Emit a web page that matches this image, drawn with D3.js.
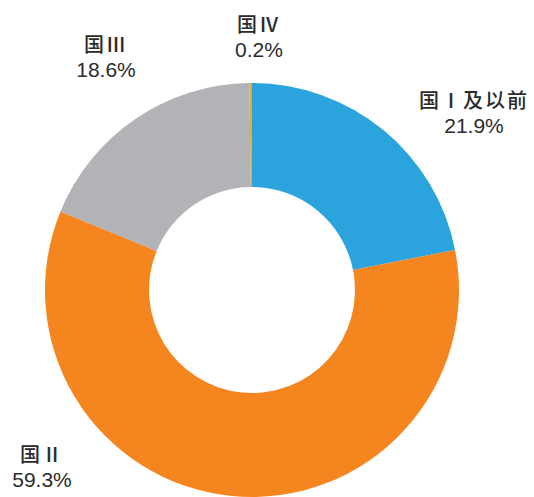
<!DOCTYPE html>
<html>
<head>
<meta charset="utf-8">
<script src="https://d3js.org/d3.v7.min.js"></script>
<style>
  body { margin: 0; background: #fff; }
  text { font-family: "Liberation Sans", Arial, "Noto Sans CJK SC", sans-serif; fill: #2b2b2b; }
</style>
</head>
<body>
<svg id="chart"></svg>
<script>
// data
var names = ["国Ⅰ及以前", "国Ⅱ", "国Ⅲ", "国Ⅳ"];
var shares = [21.9, 59.3, 18.6, 0.2];
var colors = ["#2ba3dd", "#f5851f", "#b2b3b6", "#f3a42c"];

var width = 534, height = 497;
var cx = 252, cy = 290, outerR = 207, innerR = 103;

// label anchors (layout only), centre x and first-line baseline
var labelPos = [[474, 108], [42, 462], [106, 52], [259, 32]];

var svg = d3.select("#chart")
    .attr("width", width)
    .attr("height", height);

var g = svg.append("g")
    .attr("transform", "translate(" + cx + "," + cy + ")");

var pie = d3.pie().sort(null).value(function(d) { return d; });
var arc = d3.arc().innerRadius(innerR).outerRadius(outerR);

g.selectAll("path")
    .data(pie(shares))
    .enter().append("path")
    .attr("d", arc)
    .attr("fill", function(d, i) { return colors[i]; });

var labels = svg.selectAll(".lbl")
    .data(names)
    .enter().append("text")
    .attr("class", "lbl")
    .attr("text-anchor", "middle")
    .attr("x", function(d, i) { return labelPos[i][0]; })
    .attr("y", function(d, i) { return labelPos[i][1]; })
    .style("font-size", "20px");

labels.append("tspan")
    .attr("x", function(d, i) { return labelPos[i][0]; })
    .style("font-family", "'Noto Sans CJK SC', sans-serif")
    .style("font-weight", "500")
    .style("letter-spacing", "2px")
    .text(function(d) { return d; });

labels.append("tspan")
    .attr("x", function(d, i) { return labelPos[i][0]; })
    .attr("dy", 25)
    .style("font-size", "21px")
    .text(function(d, i) { return shares[i].toFixed(1) + "%"; });
</script>
</body>
</html>
